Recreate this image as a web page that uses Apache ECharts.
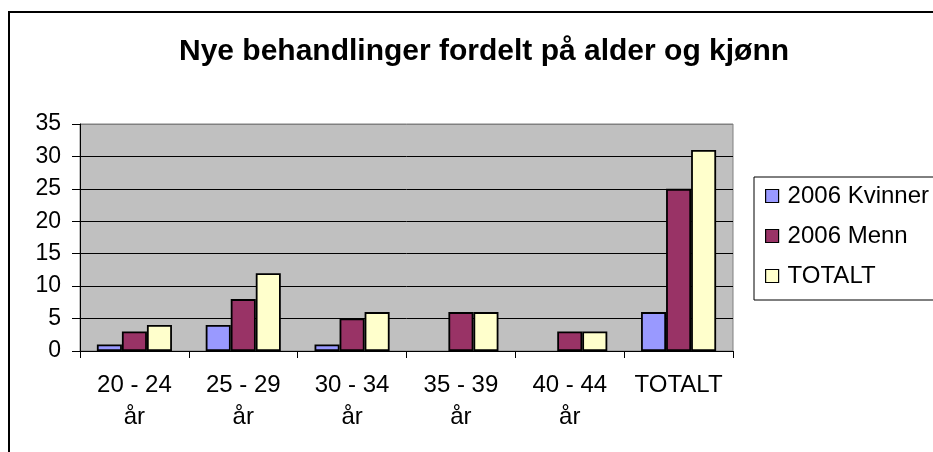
<!DOCTYPE html>
<html>
<head>
<meta charset="utf-8">
<script src="https://cdn.jsdelivr.net/npm/echarts@6/dist/echarts.min.js"></script>
<style>
html,body{margin:0;padding:0;background:#fff;}
#chart{width:933px;height:452px;}
</style>
</head>
<body>
<div id="chart"></div>
<script>
var titleText = 'Nye behandlinger fordelt på alder og kjønn';
var categories = ['20 - 24\når', '25 - 29\når', '30 - 34\når', '35 - 39\når', '40 - 44\når', 'TOTALT'];
var seriesNames = ['2006 Kvinner', '2006 Menn', 'TOTALT'];
var kvinner = [1, 4, 1, 0, 0, 6];
var menn = [3, 8, 5, 6, 3, 25];
var totalt = [4, 12, 6, 6, 3, 31];
var yTicks = [0, 5, 10, 15, 20, 25, 30, 35];
var colors = ['#9999FF', '#993366', '#FFFFCC'];

var font = 'Arial, "Liberation Sans", sans-serif';
var chart = echarts.init(document.getElementById('chart'), null, {renderer: 'canvas'});
var values = [kvinner, menn, totalt];
chart.setOption({
  animation: false,
  backgroundColor: '#ffffff',
  title: {
    text: titleText,
    left: 479, top: 32,
    textAlign: 'center',
    textStyle: {fontFamily: font, fontSize: 30, fontWeight: 'bold', color: '#000'}
  },
  graphic: [{
    type: 'rect', silent: true, z: 100,
    shape: {x: 9, y: 12, width: 1000, height: 600},
    style: {fill: 'none', stroke: '#000', lineWidth: 2}
  }],
  legend: {
    orient: 'vertical',
    left: 754, top: 177,
    padding: [7, 10, 12, 11],
    borderColor: '#000', borderWidth: 1,
    backgroundColor: '#fff',
    itemWidth: 13, itemHeight: 13, itemGap: 16,
    icon: 'rect',
    itemStyle: {borderColor: '#000', borderWidth: 1.2},
    textStyle: {fontFamily: font, fontSize: 24, color: '#000', lineHeight: 22, padding: [0, 0, 0, 4]},
    data: seriesNames
  },
  grid: {
    left: 80, right: 200, top: 124, bottom: 101,
    show: true, backgroundColor: '#C0C0C0', borderColor: '#808080', borderWidth: 1
  },
  xAxis: {
    type: 'category', data: categories,
    axisLine: {show: true, lineStyle: {color: '#000', width: 1}},
    axisTick: {show: true, length: 7, lineStyle: {color: '#000'}},
    axisLabel: {fontFamily: font, fontSize: 24, color: '#000', lineHeight: 32, margin: 18, interval: 0}
  },
  yAxis: {
    type: 'value', min: 0, max: 35, interval: 5,
    axisLine: {show: true, lineStyle: {color: '#000', width: 1}},
    axisTick: {show: true, length: 8, lineStyle: {color: '#000'}},
    axisLabel: {fontFamily: font, fontSize: 23, color: '#000', margin: 19,
      formatter: function (v) { return yTicks.indexOf(v) >= 0 ? String(v) : ''; }},
    splitLine: {show: true, lineStyle: {color: ['#000', '#000', '#000', '#000', '#000', '#000', '#000', '#808080'], width: 1}}
  },
  series: seriesNames.map(function (n, i) {
    return {
      name: n, type: 'bar',
      data: values[i].map(function (v) { return v === 0 ? '-' : v; }),
      barGap: '0%', barCategoryGap: '31%',
      itemStyle: {color: colors[i], borderColor: '#000', borderWidth: 1.8}
    };
  })
});
</script>
</body>
</html>
